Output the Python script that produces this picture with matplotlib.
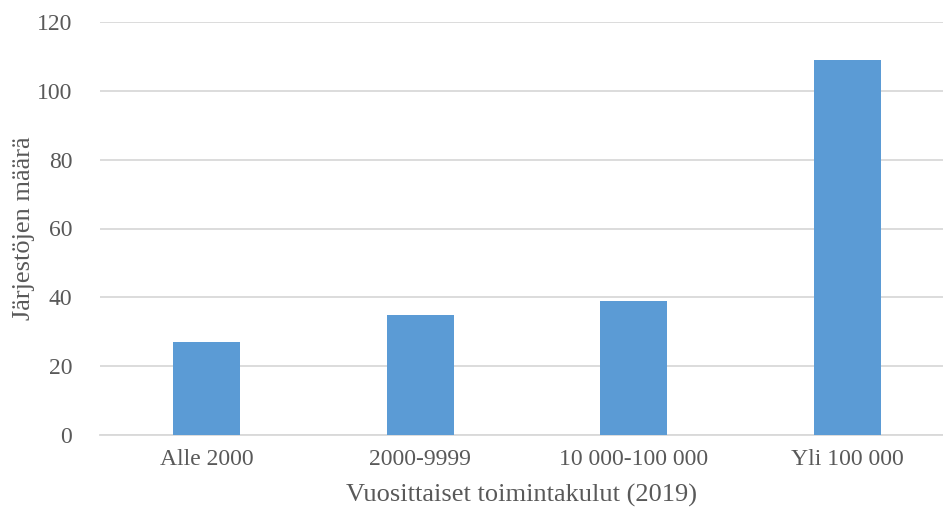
import matplotlib.pyplot as plt

KATEGORIAT = ['Alle 2000', '2000-9999', '10 000-100 000', 'Yli 100 000']
MAARAT = [27, 35, 39, 109]

plt.rcParams['font.family'] = ['Liberation Serif', 'DejaVu Serif']
plt.rcParams['font.size'] = 17

TEKSTI = '#595959'
VIIVA = '#D9D9D9'

fig = plt.figure(figsize=(9.43, 5.14), dpi=100)
ax = fig.add_axes([100 / 943, 1 - 435 / 514, 843 / 943, 413 / 514])

ax.bar(range(len(KATEGORIAT)), MAARAT, width=0.314, color='#5B9BD5', zorder=3)

ax.set_ylim(0, 120)
ax.set_yticks(range(0, 121, 20))
ax.set_xlim(-0.5, 3.5 - 11 / 213.3)
ax.set_xticks(range(len(KATEGORIAT)))
ax.set_xticklabels(KATEGORIAT)

ax.grid(axis='y', color=VIIVA, linewidth=1.3, zorder=0)
for s in ['top', 'right', 'left']:
    ax.spines[s].set_visible(False)
ax.spines['bottom'].set_color(VIIVA)
ax.spines['bottom'].set_linewidth(1.3)
ax.tick_params(axis='both', length=0, colors=TEKSTI)
ax.tick_params(axis='y', pad=20)
ax.tick_params(axis='x', pad=10)

ax.set_xlabel('Vuosittaiset toimintakulut (2019)', color=TEKSTI, fontsize=19, labelpad=10)
ax.set_ylabel('Järjestöjen määrä', color=TEKSTI, fontsize=19, labelpad=1)

fig.savefig('out.png', dpi=100)
